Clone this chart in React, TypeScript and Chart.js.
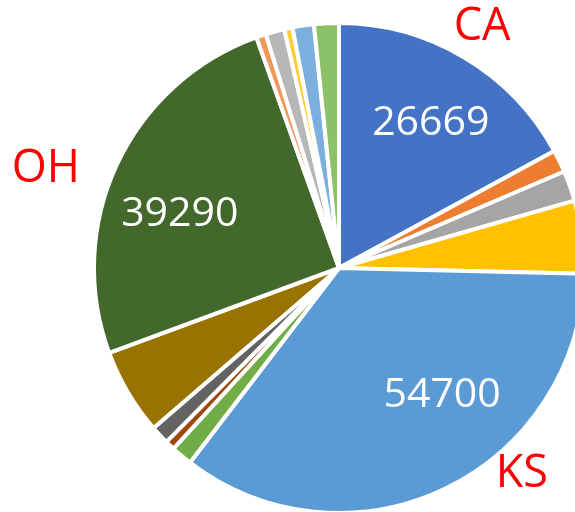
import React, { useEffect, useRef } from "react";
import { Chart, registerables } from "chart.js";

Chart.register(...registerables);

// ---- data ----
const categories = ["CA", "CO", "CT", "FL", "KS", "KY", "MA", "MI", "NY", "OH", "OR", "PA", "TN", "TX", "WA"];
const values = [26669, 2310, 3140, 7500, 54700, 2200, 1000, 1900, 8900, 39290, 1000, 1950, 850, 2200, 2550];
const sliceColors = [
  "#4472C4", "#ED7D31", "#A5A5A5", "#FFC000", "#5B9BD5", "#70AD47", "#9E480E", "#636363",
  "#997300", "#43682B", "#F1975A", "#B7B7B7", "#FFCD33", "#7CAFDD", "#8CC168",
];
// which slices get a value label and a category label
const labelledCategories = ["CA", "KS", "OH"];

// ---- label layout (relative to each slice: angle offset from mid-angle in deg, radius as fraction of outer radius) ----
const valueLabelLayout: Record<string, { dAngle: number; rFrac: number }> = {
  CA: { dAngle: 1.2, rFrac: 0.708 },
  KS: { dAngle: -14, rFrac: 0.66 },
  OH: { dAngle: -5.4, rFrac: 0.69 },
};
const nameLabelLayout: Record<string, { dAngle: number; rFrac: number }> = {
  CA: { dAngle: -0.35, rFrac: 1.155 },
  KS: { dAngle: -16.4, rFrac: 1.115 },
  OH: { dAngle: -5.8, rFrac: 1.267 },
};

const FONT = "'Open Sans', 'Noto Sans', sans-serif";

const labelPlugin = {
  id: "sliceLabels",
  afterDatasetsDraw(chart: any) {
    const meta = chart.getDatasetMeta(0);
    const ctx = chart.ctx as CanvasRenderingContext2D;
    ctx.save();
    ctx.textAlign = "center";
    ctx.textBaseline = "alphabetic";
    labelledCategories.forEach((cat) => {
      const i = categories.indexOf(cat);
      const arc = meta.data[i];
      if (!arc) return;
      const { x, y, startAngle, endAngle, outerRadius } = arc.getProps(
        ["x", "y", "startAngle", "endAngle", "outerRadius"],
        true
      );
      const mid = (startAngle + endAngle) / 2;
      const draw = (
        text: string,
        lay: { dAngle: number; rFrac: number },
        size: number,
        color: string
      ) => {
        const a = mid + (lay.dAngle * Math.PI) / 180;
        const r = outerRadius * lay.rFrac;
        const px = x + r * Math.cos(a);
        const py = y + r * Math.sin(a);
        ctx.font = `${size}px ${FONT}`;
        ctx.fillStyle = color;
        ctx.fillText(text, px, py + (size * 0.714) / 2);
      };
      draw(String(values[i]), valueLabelLayout[cat], 41, "#FFFFFF");
      draw(cat, nameLabelLayout[cat], 45, "#FF0000");
    });
    ctx.restore();
  },
};

export default function App() {
  const ref = useRef<HTMLCanvasElement | null>(null);

  useEffect(() => {
    if (!ref.current) return;
    const chart = new Chart(ref.current, {
      type: "pie",
      data: {
        labels: categories,
        datasets: [
          {
            data: values,
            backgroundColor: sliceColors,
            borderColor: "#FFFFFF",
            borderWidth: 4,
          },
        ],
      },
      options: {
        responsive: false,
        animation: false,
        devicePixelRatio: 1,
        layout: { padding: { left: 92, right: 92, top: 0, bottom: 0 } },
        plugins: {
          legend: { display: false },
          tooltip: { enabled: false },
        },
      },
      plugins: [labelPlugin],
    });
    return () => chart.destroy();
  }, []);

  return (
    <div
      style={{
        position: "fixed",
        left: 0,
        top: 0,
        width: 575,
        height: 512,
        overflow: "hidden",
        background: "#FFFFFF",
      }}
    >
      <canvas
        ref={ref}
        width={678}
        height={536}
        style={{ position: "absolute", left: 0, top: 0, width: 678, height: 536 }}
      />
    </div>
  );
}
